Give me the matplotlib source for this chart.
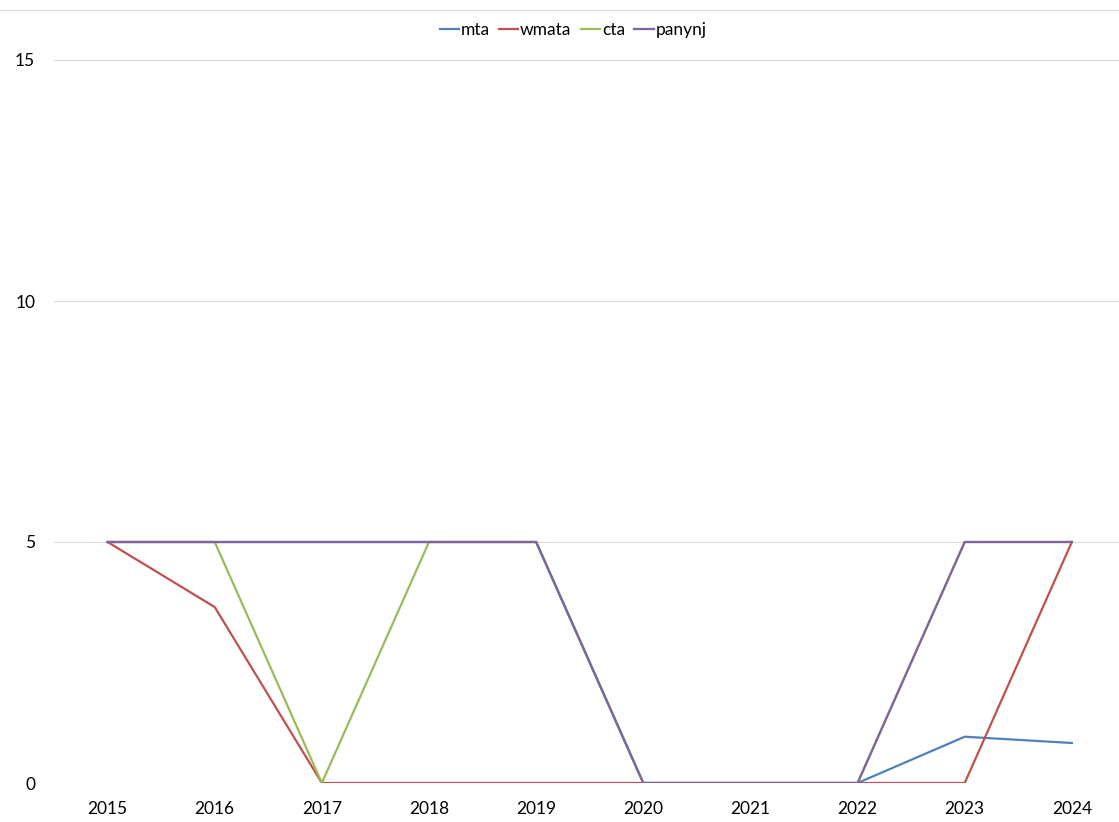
import matplotlib
matplotlib.use("Agg")
import matplotlib.pyplot as plt
from matplotlib.lines import Line2D

plt.rcParams['font.family'] = ['Lato', 'DejaVu Sans']

years = ["2015", "2016", "2017", "2018", "2019", "2020", "2021", "2022", "2023", "2024"]
mta = [5, 5, 5, 5, 5, 0, 0, 0, 0.96, 0.83]
wmata = [5, 3.65, 0, 0, 0, 0, 0, 0, 0, 5]
cta = [5, 5, 0, 5, 5, 0, 0, 0, 5, 5]
panynj = [5, 5, 5, 5, 5, 0, 0, 0, 5, 5]

series = [("mta", mta, "#4F81BD"),
          ("wmata", wmata, "#C0504D"),
          ("cta", cta, "#9BBB59"),
          ("panynj", panynj, "#8064A2")]

W, H = 1119, 822
fig = plt.figure(figsize=(W / 100, H / 100), dpi=100)
left, right, bottom, top = 54, 1119, 783, 60
ax = fig.add_axes([left / W, 1 - bottom / H, (right - left) / W, (bottom - top) / H])

x = list(range(len(years)))
for name, vals, color in series:
    ax.plot(x, vals, color=color, lw=1.6, label=name, solid_joinstyle='miter')

ax.set_ylim(0, 15)
ax.set_yticks([0, 5, 10, 15])
ax.set_xlim(-0.5, 9.44)
ax.set_xticks(x)
ax.set_xticklabels(years)
ax.grid(axis='y', color='#D9D9D9', lw=0.8)
ax.set_axisbelow(True)
for s in ax.spines.values():
    s.set_visible(False)
ax.tick_params(axis='both', length=0, labelsize=12.5, colors='black')
ax.tick_params(axis='x', pad=13)
ax.tick_params(axis='y', pad=13.5)

# Chart frame line across the top
fig.add_artist(Line2D([0, 1], [1 - 10 / H, 1 - 10 / H], color='#D9D9D9', lw=0.8))

handles = [Line2D([], [], color=c, lw=1.6) for _, _, c in series]
fig.legend(handles, [n for n, _, _ in series], loc='center', bbox_to_anchor=(573 / W, 1 - 30 / H),
           ncol=4, frameon=False, fontsize=12.5, handlelength=1.1, handletextpad=0.1,
           columnspacing=0.55)

fig.savefig("out.png", dpi=100, facecolor='white')
